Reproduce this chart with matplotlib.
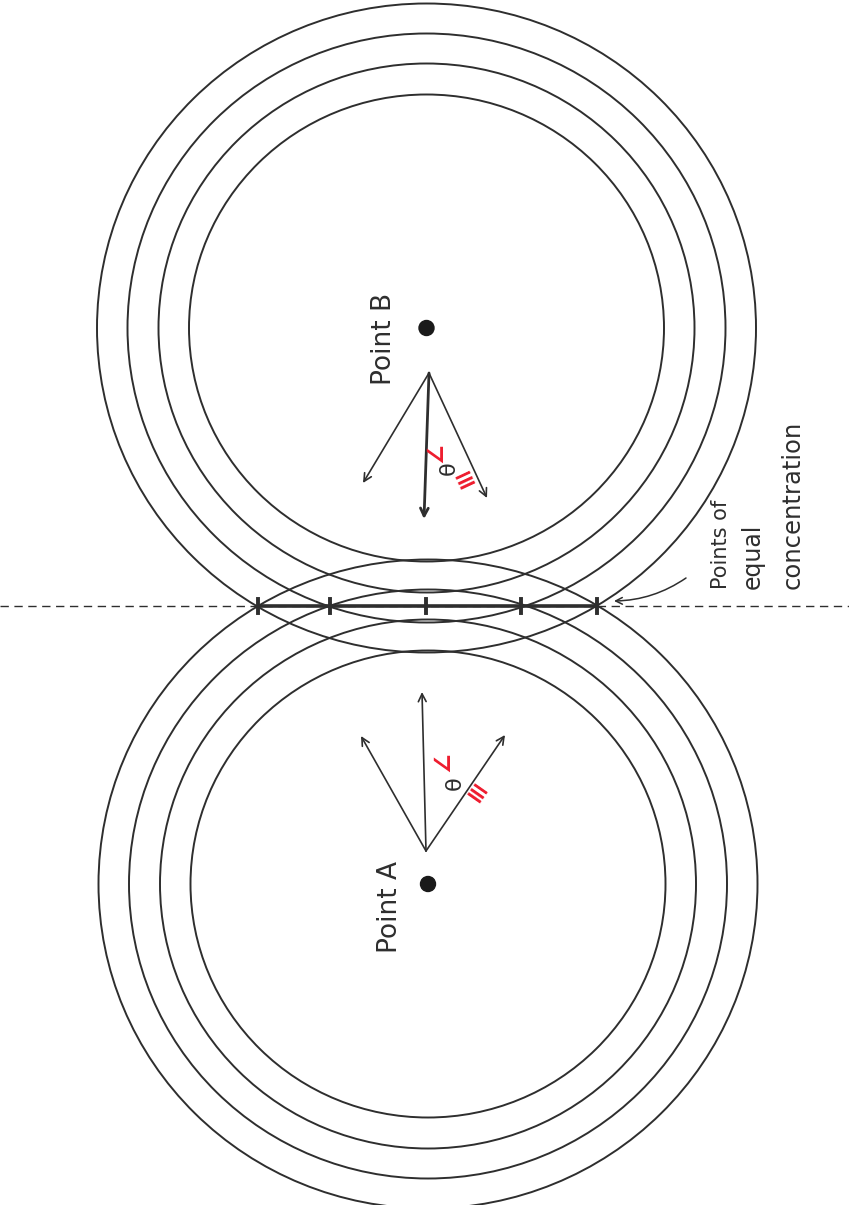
import matplotlib
matplotlib.use("Agg")
import matplotlib.pyplot as plt
from matplotlib.patches import Ellipse, Circle

# ---- data (pixel-space geometry of the diagram) ----
centers = {"B": (426.5, 328.0), "A": (428.0, 884.0)}
ring_rx = [237.5, 268.0, 299.0, 329.5]
ring_ry = [233.5, 264.5, 294.5, 324.5]
midline_y = 606
equal_points_x = [258, 330, 426, 521, 597]

arrow_origin_B = (429, 373)
arrow_tips_B = [(363, 483), (424, 519), (487, 498)]
arrow_origin_A = (426, 851)
arrow_tips_A = [(361, 736), (422, 692), (505, 735)]

labels = {"B": ("Point B", (384, 339)), "A": ("Point A", (390, 907))}
note_lines = ["Points of", "equal", "concentration"]
note_x = [721, 753, 793]
note_sizes = [15, 17, 17.5]
note_bottom = 589

ink = "#2e2e2e"
red = "#ee1c2e"

fig = plt.figure(figsize=(8.49, 12.05), dpi=100)
ax = fig.add_axes([0, 0, 1, 1])
ax.set_xlim(0, 849)
ax.set_ylim(1205, 0)
ax.axis("off")
fig.patch.set_facecolor("white")

# concentric rings around each point
for key, (cx, cy) in centers.items():
    for rx, ry in zip(ring_rx, ring_ry):
        ax.add_patch(Ellipse((cx, cy), 2 * rx, 2 * ry, fill=False,
                             edgecolor=ink, lw=1.4))
    ax.add_patch(Circle((cx, cy), 7.5, color="#1a1a1a", zorder=5))

# dashed midline
ax.plot([0, 849], [midline_y, midline_y], color=ink, lw=1.0,
        dashes=(6, 4))
# thick segment of equal concentration
ax.plot([min(equal_points_x), max(equal_points_x)], [midline_y, midline_y],
        color=ink, lw=2.6, solid_capstyle="butt")
for x in equal_points_x:
    ax.plot([x, x], [midline_y - 7, midline_y + 7], color=ink, lw=2.8)

# arrows
def arrows(origin, tips, mid_idx):
    for i, tip in enumerate(tips):
        ax.annotate("", xy=tip, xytext=origin,
                    arrowprops=dict(arrowstyle="->", color=ink,
                                    lw=2.0 if i == mid_idx else 1.2,
                                    mutation_scale=14, shrinkA=0, shrinkB=0))

arrows(arrow_origin_B, arrow_tips_B, 1)
arrows(arrow_origin_A, arrow_tips_A, -1)

# angle notes
ax.text(436, 453, "∠", color=red, fontsize=16, rotation=90,
        ha="center", va="center", fontweight="bold")
ax.text(449, 468, "θ", color=ink, fontsize=16, rotation=90,
        ha="center", va="center")
ax.text(465, 480, "≡", color=red, fontsize=18, rotation=25,
        ha="center", va="center", fontweight="bold")

ax.text(443, 762, "∠", color=red, fontsize=16, rotation=90,
        ha="center", va="center", fontweight="bold")
ax.text(455, 783, "θ", color=ink, fontsize=16, rotation=90,
        ha="center", va="center")
ax.text(475, 795, "≡", color=red, fontsize=18, rotation=-35,
        ha="center", va="center", fontweight="bold")

# point labels
for key, (txt, (x, y)) in labels.items():
    ax.text(x, y, txt, rotation=90, ha="center", va="center",
            fontsize=19, color=ink)

# note
for txt, x, fs in zip(note_lines, note_x, note_sizes):
    ax.text(x, note_bottom, txt, rotation=90, ha="center", va="bottom",
            fontsize=fs, color=ink)
ax.annotate("", xy=(614, 601), xytext=(686, 578),
            arrowprops=dict(arrowstyle="->", color=ink, lw=1.1,
                            connectionstyle="arc3,rad=-0.15",
                            mutation_scale=12, shrinkA=0, shrinkB=0))

fig.savefig("out.png", dpi=100, facecolor="white")
